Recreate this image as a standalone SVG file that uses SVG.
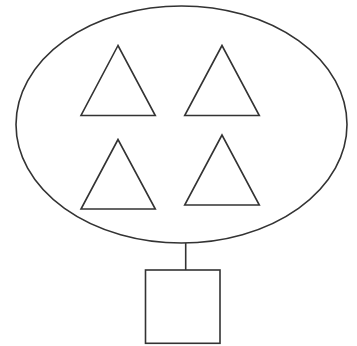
<svg xmlns="http://www.w3.org/2000/svg" width="357" height="346" viewBox="0 0 357 346">
<style>
.s{fill:#fff;stroke:#333;stroke-width:1.6}
.c{fill:none;stroke:#333;stroke-width:1.6}
</style>
<rect width="357" height="346" fill="#fff"/>
<g id="ellipse"><ellipse class="s" cx="181.5" cy="124.5" rx="165.5" ry="118.5"/></g>
<g id="tri1"><polygon class="s" points="118,45.5 81,115.5 155.3,115.5"/></g>
<g id="tri2"><polygon class="s" points="222,45.5 184.7,115.5 259.3,115.5"/></g>
<g id="tri3"><polygon class="s" points="118,139.5 81,209 155.3,209"/></g>
<g id="tri4"><polygon class="s" points="222,135 184.7,205 259.3,205"/></g>
<g id="connectors"><line class="c" x1="185.7" y1="243" x2="185.7" y2="270"/></g>
<g id="square"><rect class="s" x="145.5" y="270" width="74.5" height="73.3"/></g>
</svg>
